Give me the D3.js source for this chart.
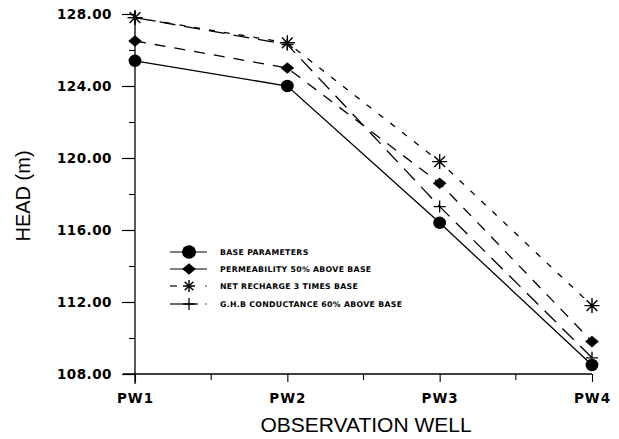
<!DOCTYPE html>
<html>
<head>
<meta charset="utf-8">
<script src="https://cdn.jsdelivr.net/npm/d3@7"></script>
<style>
  html, body { margin: 0; padding: 0; background: #fff; }
  svg { display: block; }
  .tick text { font-family: "DejaVu Sans", sans-serif; font-weight: bold; }
</style>
</head>
<body>
<svg id="chart" width="619" height="439"></svg>
<script>
// Observation wells along the x axis
const wells = ["PW1", "PW2", "PW3", "PW4"];

// Simulated head (m) at each well for every scenario
const baseParameters   = [125.4, 124.0, 116.4, 108.5];
const permeability50   = [126.5, 125.0, 118.6, 109.8];
const recharge3x       = [127.8, 126.4, 119.8, 111.8];
const ghbConductance60 = [127.8, 126.3, 117.3, 108.9];

const seriesNames = [
  "BASE PARAMETERS",
  "PERMEABILITY 50% ABOVE BASE",
  "NET RECHARGE 3 TIMES BASE",
  "G.H.B CONDUCTANCE 60% ABOVE BASE"
];

// Axis ticks
const yMajorTicks = [108, 112, 116, 120, 124, 128];
const yMinorTicks = [110, 114, 118, 122, 126];

const series = [
  { name: seriesNames[0], values: baseParameters,   marker: "circle",  dash: null },
  { name: seriesNames[1], values: permeability50,   marker: "diamond", dash: "11,9" },
  { name: seriesNames[2], values: recharge3x,       marker: "star",    dash: "6,9" },
  { name: seriesNames[3], values: ghbConductance60, marker: "plus",    dash: "16,9" }
];

const svg = d3.select("#chart");

const x = d3.scalePoint().domain(wells).range([135, 592]);
const y = d3.scaleLinear().domain([108, 128]).range([374, 14]);

// ---- axes ----
const yAxis = d3.axisLeft(y).tickValues(yMajorTicks).tickFormat(d3.format(".2f")).tickSize(13).tickPadding(10);
const gy = svg.append("g").attr("transform", "translate(135,0)").call(yAxis);
gy.select(".domain").remove();
gy.selectAll(".tick line").attr("stroke", "#000").attr("stroke-width", 1.2);
gy.selectAll(".tick text").attr("font-size", 13.5).attr("letter-spacing", "0.5px").attr("fill", "#000");

const gyMinor = svg.append("g").attr("transform", "translate(135,0)")
  .call(d3.axisLeft(y).tickValues(yMinorTicks).tickSize(6).tickFormat(""));
gyMinor.select(".domain").remove();
gyMinor.selectAll(".tick line").attr("stroke", "#000").attr("stroke-width", 1.1);

svg.append("line").attr("x1", 135).attr("x2", 135).attr("y1", 11).attr("y2", 384)
  .attr("stroke", "#000").attr("stroke-width", 1.3);

const xAxis = d3.axisBottom(x).tickSize(8).tickPadding(11);
const gx = svg.append("g").attr("transform", "translate(0,374)").call(xAxis);
gx.select(".domain").remove();
gx.selectAll(".tick line").attr("stroke", "#000").attr("stroke-width", 1.1);
gx.selectAll(".tick text").attr("font-size", 13.5).attr("letter-spacing", "1px").attr("fill", "#000");

// minor x ticks halfway between wells
const mids = d3.pairs(wells).map(([a, b]) => (x(a) + x(b)) / 2);
svg.append("g").selectAll("line").data(mids).join("line")
  .attr("x1", d => d).attr("x2", d => d).attr("y1", 374).attr("y2", 380)
  .attr("stroke", "#000").attr("stroke-width", 1.1);

svg.append("line").attr("x1", 123).attr("x2", 592).attr("y1", 374).attr("y2", 374)
  .attr("stroke", "#000").attr("stroke-width", 1.6);

// ---- axis titles ----
svg.append("text")
  .attr("transform", "translate(30,196) rotate(-90)")
  .attr("text-anchor", "middle")
  .attr("font-family", "Liberation Sans, Arial, sans-serif")
  .attr("font-size", 20)
  .text("HEAD (m)");

svg.append("text")
  .attr("x", 366).attr("y", 432)
  .attr("text-anchor", "middle")
  .attr("font-family", "Liberation Sans, Arial, sans-serif")
  .attr("font-size", 21)
  .text("OBSERVATION WELL");

// ---- markers ----
function drawMarker(g, type, cx, cy, scale) {
  const s = scale || 1;
  if (type === "circle") {
    g.append("ellipse").attr("cx", cx).attr("cy", cy).attr("rx", 6.4 * s).attr("ry", 6.2 * s).attr("fill", "#000");
  } else if (type === "diamond") {
    const r = 6.8 * s, h = 5.8 * s;
    g.append("path").attr("d", `M${cx - r},${cy}L${cx},${cy - h}L${cx + r},${cy}L${cx},${cy + h}Z`).attr("fill", "#000");
  } else if (type === "star") {
    const r = 7.5 * s, d = r * 0.72;
    g.append("path")
      .attr("d", `M${cx - r},${cy}H${cx + r}M${cx},${cy - r}V${cy + r}M${cx - d},${cy - d}L${cx + d},${cy + d}M${cx - d},${cy + d}L${cx + d},${cy - d}`)
      .attr("stroke", "#000").attr("stroke-width", 1.4).attr("fill", "none");
  } else if (type === "plus") {
    const r = 6 * s;
    g.append("path")
      .attr("d", `M${cx - r},${cy}H${cx + r}M${cx},${cy - r}V${cy + r}`)
      .attr("stroke", "#000").attr("stroke-width", 1.3).attr("fill", "none");
  }
}

// ---- series lines and markers ----
const line = d3.line().x((d, i) => x(wells[i])).y(d => y(d));
const gs = svg.append("g");
series.forEach(s => {
  gs.append("path").datum(s.values)
    .attr("d", line)
    .attr("fill", "none")
    .attr("stroke", "#000")
    .attr("stroke-width", 1.3)
    .attr("stroke-dasharray", s.dash);
  s.values.forEach((v, i) => drawMarker(gs, s.marker, x(wells[i]), y(v)));
});

// ---- legend ----
const lg = svg.append("g");
const legendY = [252, 269, 286, 304];
series.forEach((s, i) => {
  const ly = legendY[i];
  if (s.marker === "star") {
    lg.append("line").attr("x1", 170).attr("x2", 177).attr("y1", ly).attr("y2", ly).attr("stroke", "#000").attr("stroke-width", 1.2);
    lg.append("circle").attr("cx", 206).attr("cy", ly).attr("r", 0.7).attr("fill", "#000");
  } else if (s.marker === "plus") {
    lg.append("line").attr("x1", 170).attr("x2", 198).attr("y1", ly).attr("y2", ly).attr("stroke", "#000").attr("stroke-width", 1.2);
    lg.append("circle").attr("cx", 206).attr("cy", ly).attr("r", 0.7).attr("fill", "#000");
  } else {
    lg.append("line").attr("x1", 170).attr("x2", 207).attr("y1", ly).attr("y2", ly).attr("stroke", "#000").attr("stroke-width", 1.2);
  }
  const sc = s.marker === "circle" ? 1.1 : (s.marker === "star" ? 0.8 : 1);
  drawMarker(lg, s.marker, 189, ly, sc);
  lg.append("text")
    .attr("x", 220).attr("y", ly + 2.9)
    .attr("font-family", "DejaVu Sans, sans-serif")
    .attr("font-weight", "bold")
    .attr("font-size", 7.8)
    .attr("letter-spacing", "0.3px")
    .text(s.name);
});
</script>
</body>
</html>
